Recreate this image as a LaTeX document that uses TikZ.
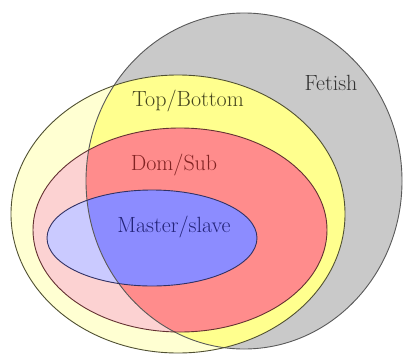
\documentclass[tikz,border=0pt]{standalone}
\usepackage{fontspec}
\begin{document}
\begin{tikzpicture}[x=1pt,y=-1pt,
  edge/.style={line width=0.9pt},
  lbl/.style={font=\fontsize{22}{26}\selectfont, inner sep=0pt}]
\definecolor{fgray}{HTML}{C9C9C9}
\definecolor{fyel}{HTML}{FFFF8E}
\definecolor{pyel}{HTML}{FFFFD2}
\definecolor{fred}{HTML}{FF8C8C}
\definecolor{pred}{HTML}{FCD2D2}
\definecolor{fblue}{HTML}{8C8CFF}
\definecolor{pblue}{HTML}{CACAFF}
\useasboundingbox[fill=white] (0,0) rectangle (403,353);
\def\grayE{(244,181) ellipse [x radius=158, y radius=168]}
\def\yelE{(178,214) ellipse [x radius=167, y radius=139]}
\def\redE{(180,230) ellipse [x radius=147, y radius=102]}
\def\blueE{(152,238) ellipse [x radius=105, y radius=48]}
\fill[fgray] \grayE;
\fill[pyel] \yelE;
\fill[pred] \redE;
\fill[pblue] \blueE;
\begin{scope}
  \clip \grayE;
  \fill[fyel] \yelE;
  \fill[fred] \redE;
  \fill[fblue] \blueE;
\end{scope}
\draw[edge, draw=black!65] \grayE;
\draw[edge, draw={rgb,255:red,80;green,80;blue,50}] \yelE;
\draw[edge, draw={rgb,255:red,100;green,50;blue,50}] \redE;
\draw[edge, draw={rgb,255:red,50;green,50;blue,100}] \blueE;
\node[lbl, text=black!80] (fetish) at (331,83) {Fetish};
\node[lbl, text={rgb,255:red,70;green,70;blue,30}] (topbottom) at (188,101) {Top/Bottom};
\node[lbl, text={rgb,255:red,130;green,35;blue,35}] (domsub) at (174,165) {Dom/Sub};
\node[lbl, text={rgb,255:red,35;green,35;blue,120}] (master) at (174,227) {Master/slave};
\end{tikzpicture}
\end{document}
